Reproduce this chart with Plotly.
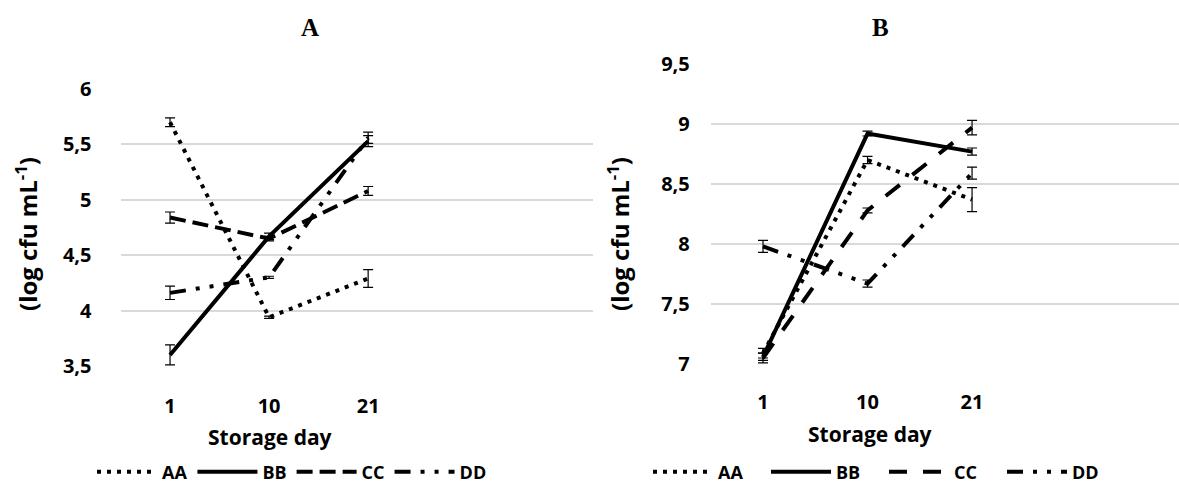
import plotly.graph_objects as go

# ---------------- data ----------------
days = ["1", "10", "21"]
series = ["AA", "BB", "CC", "DD"]

# Panel A (log cfu mL-1)
a_AA = [5.70, 3.94, 4.29]
a_BB = [3.60, 4.67, 5.53]
a_CC = [4.84, 4.65, 5.08]
a_DD = [4.16, 4.30, 5.56]
a_AA_err = [0.04, 0.01, 0.08]
a_BB_err = [0.09, 0.03, 0.05]
a_CC_err = [0.05, 0.02, 0.04]
a_DD_err = [0.06, 0.01, 0.05]

# Panel B (log cfu mL-1)
b_AA = [7.09, 8.70, 8.37]
b_BB = [7.06, 8.92, 8.77]
b_CC = [7.05, 8.28, 8.97]
b_DD = [7.98, 7.67, 8.59]
b_AA_err = [0.04, 0.03, 0.10]
b_BB_err = [0.03, 0.02, 0.03]
b_CC_err = [0.04, 0.02, 0.06]
b_DD_err = [0.05, 0.03, 0.05]

y_ticks_a = [3.5, 4, 4.5, 5, 5.5, 6]
y_ticks_b = [7, 7.5, 8, 8.5, 9, 9.5]

# ---------------- styles ----------------
FONT = "Open Sans"
dash_a = {"AA": "4px,6px", "BB": "solid", "CC": "16px,7px", "DD": "16px,10px,4px,10px,4px,10px"}
dash_b = {"AA": "4px,6px", "BB": "solid", "CC": "18px,16px", "DD": "16px,10px,4px,10px,4px,10px"}

fig = go.Figure()

def add(vals, errs, name, dash, xa, ya, leg):
    fig.add_trace(go.Scatter(
        x=days, y=vals, name=name, mode="lines",
        line=dict(color="black", width=4, dash=dash),
        error_y=dict(type="data", array=errs, visible=True, color="black",
                     thickness=1.2, width=5),
        xaxis=xa, yaxis=ya, legend=leg,
    ))

for name, v, e in zip(series, [a_AA, a_BB, a_CC, a_DD], [a_AA_err, a_BB_err, a_CC_err, a_DD_err]):
    add(v, e, name, dash_a[name], "x", "y", "legend")
for name, v, e in zip(series, [b_AA, b_BB, b_CC, b_DD], [b_AA_err, b_BB_err, b_CC_err, b_DD_err]):
    add(v, e, name, dash_b[name], "x2", "y2", "legend2")

W, H = 1179, 492
tickfont = dict(family=FONT, size=20, color="black", weight="bold")
common_x = dict(type="category", categoryorder="array", categoryarray=days,
                showgrid=False, zeroline=False, showline=False, ticks="",
                tickfont=tickfont, automargin=False)
common_y = dict(showgrid=True, gridcolor="#d9d9d9", gridwidth=2, zeroline=False,
                showline=False, ticks="", tickfont=tickfont, automargin=False)
legfont = dict(family=FONT, size=18, color="black", weight="bold")

fig.update_layout(
    width=W, height=H,
    margin=dict(l=0, r=0, t=0, b=0),
    paper_bgcolor="white", plot_bgcolor="white",
    separators=", ",
    xaxis=dict(common_x, domain=[120.5 / W, 593 / W], range=[-0.5, 4.27],
               anchor="y", ticklabelstandoff=26),
    yaxis=dict(common_y, domain=[1 - 366 / H, 1 - 89 / H], range=[3.5, 6],
               tickvals=y_ticks_a, anchor="x", ticklabelstandoff=28),
    xaxis2=dict(common_x, domain=[710.75 / W, 1.0], range=[-0.5, 3.98],
                anchor="y2", ticklabelstandoff=24),
    yaxis2=dict(common_y, domain=[1 - 364 / H, 1 - 64 / H], range=[7, 9.5],
                tickvals=y_ticks_b, anchor="x2", ticklabelstandoff=20),
    legend=dict(orientation="h", x=292 / W, xanchor="center", y=1 - 472 / H, yanchor="middle",
                font=legfont, itemwidth=60, bgcolor="rgba(0,0,0,0)", tracegroupgap=0),
    legend2=dict(orientation="h", x=648 / W, xanchor="left", y=1 - 472 / H, yanchor="middle",
                 font=legfont, itemwidth=60, entrywidth=43, bgcolor="rgba(0,0,0,0)",
                 tracegroupgap=0),
    showlegend=True,
)

ann_font = dict(family=FONT, size=21, color="black", weight="bold")
ytitle_font = dict(family=FONT, size=24, color="black", weight="bold")
title_font = dict(family="Liberation Serif", size=25, color="black", weight="bold")
fig.add_annotation(text="A", x=310 / W, y=1 - 28 / H, xref="paper", yref="paper",
                   showarrow=False, font=title_font, xanchor="center", yanchor="middle")
fig.add_annotation(text="B", x=880 / W, y=1 - 28 / H, xref="paper", yref="paper",
                   showarrow=False, font=title_font, xanchor="center", yanchor="middle")
fig.add_annotation(text="Storage day", x=270 / W, y=1 - 437 / H, xref="paper", yref="paper",
                   showarrow=False, font=ann_font, xanchor="center", yanchor="middle")
fig.add_annotation(text="Storage day", x=870 / W, y=1 - 434 / H, xref="paper", yref="paper",
                   showarrow=False, font=ann_font, xanchor="center", yanchor="middle")
fig.add_annotation(text="(log cfu mL<sup>-1</sup>)", x=26 / W, y=1 - 234 / H, xref="paper",
                   yref="paper", showarrow=False, font=ytitle_font, textangle=-90,
                   xanchor="center", yanchor="middle")
fig.add_annotation(text="(log cfu mL<sup>-1</sup>)", x=618 / W, y=1 - 234 / H, xref="paper",
                   yref="paper", showarrow=False, font=ytitle_font, textangle=-90,
                   xanchor="center", yanchor="middle")

fig.write_html("out.html", post_script="document.body.style.margin='0px';",
               config={"displayModeBar": False})
